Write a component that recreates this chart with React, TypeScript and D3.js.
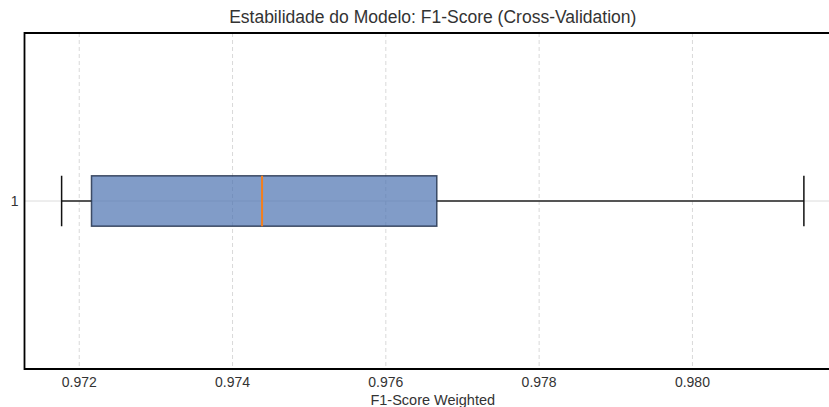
import React from "react";
import * as d3 from "d3";

const categories = ["1"];
const whiskerLow = [0.97177];
const q1 = [0.97216];
const median = [0.974385];
const q3 = [0.976665];
const whiskerHigh = [0.981454];
const xTicks = [0.972, 0.974, 0.976, 0.978, 0.98];

const W = 829;
const H = 407;
const left = 24.5;
const right = 841;
const top = 33;
const bottom = 369;

export default function App() {
  const lo = d3.min(whiskerLow)!;
  const hi = d3.max(whiskerHigh)!;
  const pad = (hi - lo) * 0.05;
  const x = d3.scaleLinear().domain([lo - pad, hi + pad]).range([left, right]);
  const y = d3.scaleLinear().domain([0.5, 1.5]).range([bottom, top]);
  const boxH = 0.15;
  const capH = 0.075;
  const font = "'Liberation Sans', Arial, sans-serif";
  return (
    <svg width={W} height={H} style={{ position: "absolute", left: 0, top: 0 }} fontFamily={font}>
      <rect x={0} y={0} width={W} height={H} fill="#fff" />
      <defs>
        <clipPath id="ax">
          <rect x={left} y={top} width={right - left} height={bottom - top} />
        </clipPath>
      </defs>
      <g clipPath="url(#ax)">
        {xTicks.map((t) => (
          <line key={t} x1={x(t)} x2={x(t)} y1={top} y2={bottom} stroke="#d9d9d9" strokeWidth={1} strokeDasharray="4,3" />
        ))}
        {categories.map((c, i) => (
          <line key={c} x1={left} x2={right} y1={y(i + 1)} y2={y(i + 1)} stroke="#dcdcdc" strokeWidth={1} />
        ))}
        {categories.map((c, i) => {
          const cy = y(i + 1);
          return (
            <g key={c}>
              <line x1={x(whiskerLow[i])} x2={x(q1[i])} y1={cy} y2={cy} stroke="#222" strokeWidth={1.5} />
              <line x1={x(q3[i])} x2={x(whiskerHigh[i])} y1={cy} y2={cy} stroke="#222" strokeWidth={1.5} />
              <line x1={x(whiskerLow[i])} x2={x(whiskerLow[i])} y1={y(i + 1 + capH)} y2={y(i + 1 - capH)} stroke="#111" strokeWidth={1.5} />
              <line x1={x(whiskerHigh[i])} x2={x(whiskerHigh[i])} y1={y(i + 1 + capH)} y2={y(i + 1 - capH)} stroke="#111" strokeWidth={1.5} />
              <rect
                x={x(q1[i])}
                y={y(i + 1 + boxH / 2)}
                width={x(q3[i]) - x(q1[i])}
                height={y(i + 1 - boxH / 2) - y(i + 1 + boxH / 2)}
                fill="#4c72b0"
                fillOpacity={0.7}
                stroke="#1c2a45"
                strokeOpacity={0.8}
                strokeWidth={1.5}
              />
              <line x1={x(median[i])} x2={x(median[i])} y1={y(i + 1 + boxH / 2)} y2={y(i + 1 - boxH / 2)} stroke="#f47f1e" strokeWidth={2} />
            </g>
          );
        })}
      </g>
      <path d={`M${right},${top}H${left}V${bottom}H${right}`} fill="none" stroke="#000" strokeWidth={1.8} />
      {xTicks.map((t) => (
        <text key={t} x={x(t)} y={386.5} textAnchor="middle" fontSize={14} fill="#333">
          {d3.format(".3f")(t)}
        </text>
      ))}
      {categories.map((c, i) => (
        <text key={c} x={18.5} y={y(i + 1)} dy="0.35em" textAnchor="end" fontSize={14} fill="#333">
          {c}
        </text>
      ))}
      <text x={(left + right) / 2} y={404.5} textAnchor="middle" fontSize={14.5} fill="#333">
        F1-Score Weighted
      </text>
      <text x={(left + right) / 2} y={22.5} textAnchor="middle" fontSize={17.5} fill="#333">
        Estabilidade do Modelo: F1-Score (Cross-Validation)
      </text>
    </svg>
  );
}
